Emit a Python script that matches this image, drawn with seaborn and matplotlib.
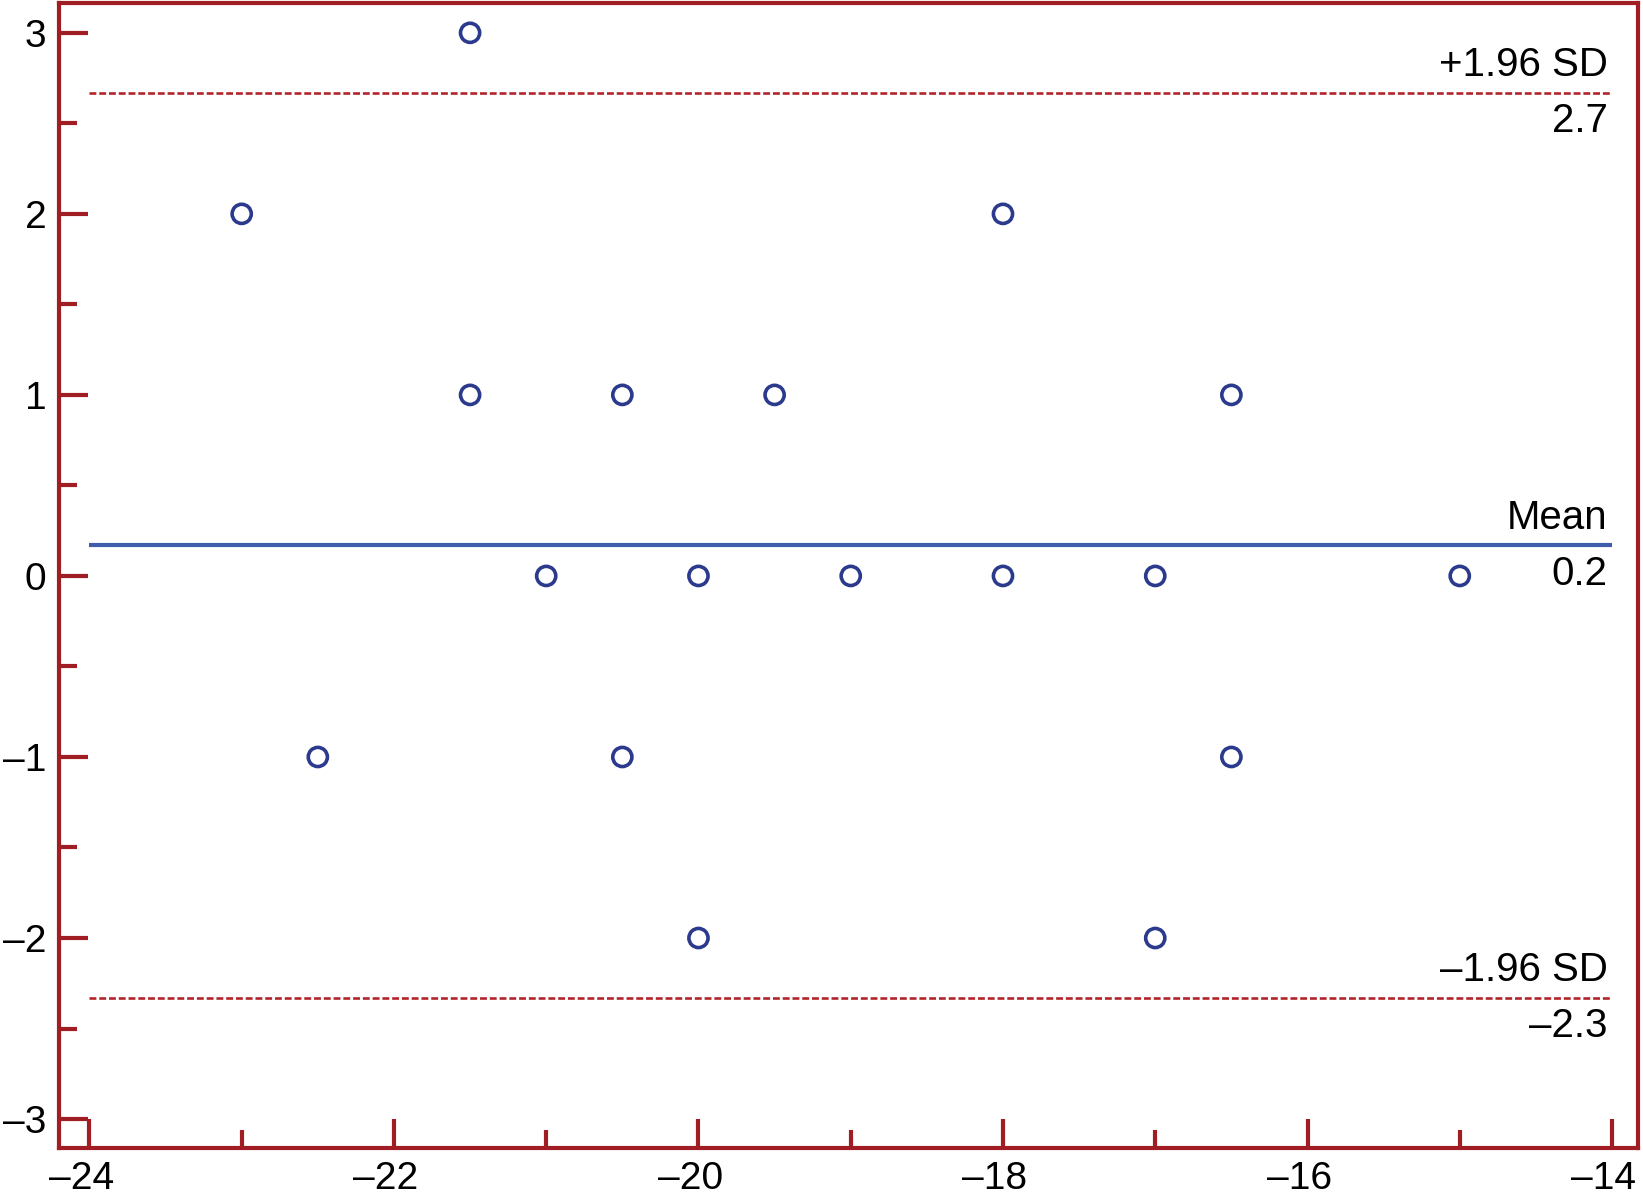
import pandas as pd
import seaborn as sns
import matplotlib.pyplot as plt
from matplotlib.ticker import MultipleLocator
from matplotlib.transforms import ScaledTranslation

# Bland-Altman style data
mean_vals = [-23, -21.5, -22.5, -21.5, -21, -20.5, -20.5, -20, -20,
             -19.5, -19, -18, -18, -17, -17, -16.5, -16.5, -15]
diff_vals = [2, 3, -1, 1, 0, 1, -1, 0, -2,
             1, 0, 2, 0, 0, -2, 1, -1, 0]

mean_diff = 0.17
upper_loa = 2.67
lower_loa = -2.33
ref_labels = ["+1.96 SD", "Mean", "\u20131.96 SD"]
ref_values = ["2.7", "0.2", "\u20132.3"]

x_ticks = [-24, -22, -20, -18, -16, -14]
y_ticks = [-3, -2, -1, 0, 1, 2, 3]

frame_red = "#A11D24"
dash_red = "#B0252B"
mean_blue = "#3F5DAA"
marker_blue = "#2B3A8C"

sns.set_style("ticks")
plt.rcParams['font.family'] = ['Liberation Sans', 'DejaVu Sans']
plt.rcParams['text.color'] = 'black'
plt.rcParams['xtick.labelcolor'] = 'black'
plt.rcParams['ytick.labelcolor'] = 'black'

df = pd.DataFrame({"mean": mean_vals, "diff": diff_vals})

fig = plt.figure(figsize=(16.43, 12.03), dpi=100)
ax = fig.add_axes([0.0359, 0.0457, 0.961, 0.952])

sns.scatterplot(data=df, x="mean", y="diff", ax=ax, marker="o",
                s=190, facecolor="none", edgecolor=marker_blue,
                linewidth=2.6, zorder=3)

x_lo, x_hi = x_ticks[0], x_ticks[-1]
ax.hlines(upper_loa, x_lo, x_hi, color=dash_red, lw=1.9,
          linestyles=(0, (2.6, 1.1)))
ax.hlines(lower_loa, x_lo, x_hi, color=dash_red, lw=1.9,
          linestyles=(0, (2.6, 1.1)))
ax.hlines(mean_diff, x_lo, x_hi, color=mean_blue, lw=3)

for yv, top, bot in zip([upper_loa, mean_diff, lower_loa], ref_labels, ref_values):
    ax.annotate(top, (x_hi, yv), xytext=(-3, 6), textcoords="offset points",
                ha="right", va="bottom", fontsize=29, color="black")
    ax.annotate(bot, (x_hi, yv), xytext=(-3, -7), textcoords="offset points",
                ha="right", va="top", fontsize=29, color="black")

ax.set_xlim(-24.2, -13.83)
ax.set_ylim(-3.16, 3.166)
ax.set_xticks(x_ticks)
ax.set_yticks(y_ticks)
ax.set_xticklabels([str(t).replace("-", "\u2013") for t in x_ticks])
ax.set_yticklabels([str(t).replace("-", "\u2013") for t in y_ticks])
ax.xaxis.set_minor_locator(MultipleLocator(1))
ax.yaxis.set_minor_locator(MultipleLocator(0.5))
ax.set_xlabel("")
ax.set_ylabel("")

ax.tick_params(which="major", direction="in", length=21, width=3,
               color=frame_red, labelsize=28, pad=9)
ax.tick_params(which="minor", direction="in", length=13, width=3,
               color=frame_red)
ax.tick_params(axis="y", which="both", left=True, right=False)
ax.tick_params(axis="x", which="both", bottom=True, top=False)

# x labels sit a little left of their ticks in the original
shift = ScaledTranslation(-6 / 72, 0, fig.dpi_scale_trans)
for lab in ax.get_xticklabels():
    lab.set_transform(lab.get_transform() + shift)

for sp in ax.spines.values():
    sp.set_visible(True)
    sp.set_color(frame_red)
    sp.set_linewidth(3)

fig.savefig("out.png", dpi=100)
